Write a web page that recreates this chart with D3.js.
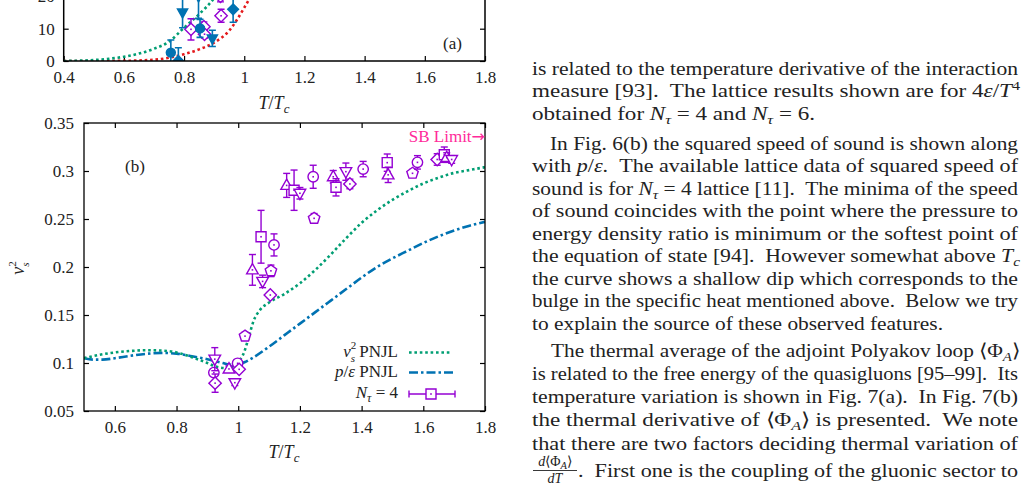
<!DOCTYPE html>
<html><head><meta charset="utf-8">
<script src="https://cdn.jsdelivr.net/npm/d3@7"></script>
<style>
body{margin:0;background:#fff}
svg{display:block}
</style>
</head><body>
<svg id="c" width="1029" height="491"></svg>
<script>
// ---------------- DATA ----------------
// Panel (b): squared speed of sound
const bTicksX = [0.6, 0.8, 1.0, 1.2, 1.4, 1.6, 1.8];
const bTicksY = [0.05, 0.1, 0.15, 0.2, 0.25, 0.3, 0.35];
const vsT = [0.5,0.55,0.6,0.65,0.7,0.75,0.8,0.85,0.9,0.93,0.96,0.98,1.0,1.02,1.035,1.05,1.07,1.1,1.15,1.2,1.25,1.3,1.35,1.4,1.45,1.5,1.55,1.6,1.65,1.7,1.75,1.8];
const vsV = [0.105,0.1085,0.111,0.1125,0.1133,0.113,0.111,0.106,0.1,0.096,0.0948,0.096,0.101,0.112,0.128,0.144,0.155,0.163,0.172,0.183,0.197,0.213,0.23,0.246,0.259,0.27,0.279,0.287,0.293,0.298,0.301,0.304];
const peT = [0.5,0.53,0.56,0.6,0.65,0.7,0.75,0.8,0.85,0.9,0.95,0.975,1.0,1.025,1.05,1.1,1.15,1.2,1.25,1.3,1.35,1.4,1.45,1.5,1.55,1.6,1.65,1.7,1.75,1.8];
const peV = [0.105,0.1035,0.1035,0.105,0.1075,0.1095,0.1105,0.1098,0.107,0.104,0.1,0.098,0.0985,0.1015,0.106,0.117,0.129,0.141,0.153,0.165,0.177,0.189,0.2,0.209,0.217,0.225,0.232,0.238,0.243,0.247];
const latT = [0.921,0.924,0.925,0.970,0.989,0.998,1.003,1.022,1.046,1.074,1.079,1.104,1.106,1.116,1.157,1.181,1.200,1.243,1.246,1.308,1.317,1.349,1.362,1.405,1.483,1.486,1.565,1.581,1.645,1.668,1.676,1.692];
const latV = [0.0900,0.1040,0.0790,0.0938,0.0795,0.0997,0.0934,0.1280,0.1970,0.2315,0.1850,0.1708,0.1960,0.2230,0.2850,0.2800,0.2768,0.2940,0.2507,0.2940,0.2830,0.2993,0.2865,0.3020,0.3087,0.2960,0.2976,0.3090,0.3120,0.3170,0.3140,0.3120];
const latErr = [0.004,0.012,0.0095,0.003,0.003,0.003,0.003,0.004,0.016,0.0275,0.0065,0.003,0.006,0.0115,0.0125,0.021,0.006,0.012,0.005,0.0065,0.009,0.009,0.005,0.008,0.009,0.008,0.004,0.007,0.006,0.008,0.005,0.004];
const latMark = ["circle","tridown","diamond","triup","tridown","circle","diamond","pentagon","triup","square","tridown","diamond","pentagon","circle","triup","square","tridown","circle","pentagon","triup","square","tridown","diamond","circle","square","triup","pentagon","circle","diamond","square","triup","tridown"];

// Panel (a): only its lower part is visible
const aTicksX = [0.4, 0.6, 0.8, 1.0, 1.2, 1.4, 1.6, 1.8];
const aTicksY = [0, 10, 20];
const aGreenT = [0.4,0.45,0.5,0.55,0.6,0.65,0.7,0.75,0.8,0.85,0.9,0.95,1.0];
const aGreenV = [0,0.1,0.3,0.7,1.3,2.3,3.8,6.0,10.3,14.5,19.5,27,36];
const aRedT = [0.4,0.5,0.6,0.7,0.75,0.8,0.85,0.9,0.95,1.0,1.05];
const aRedV = [0,0,0.05,0.4,1.0,2.1,3.6,5.7,9.4,16.5,25];
const aBlueT = [0.756,0.781,0.795,0.848,0.853,0.894,0.963];
const aBlueV = [2.6,0,15,20,10.1,7.0,16];
const aBlueE = [3.9,4.1,4.7,6.8,2.8,2.5,4];
const aBlueM = ["circle","diamond","tridown","tridown","circle","tridown","diamond"];
const aPurT = [0.823,0.866,0.868,0.923,0.921];
const aPurV = [9.8,10.6,8.3,14,20];
const aPurE = [3.3,1.5,1.2,2,1.7];

// ---------------- SETUP ----------------
const FONT = '"Liberation Serif","Times New Roman",serif';
const TXT = "#222";
const GREEN = "#009e73", BLUE = "#0072b2", PURPLE = "#9400d3", RED = "#e41a1c", PINK = "#ff2a9a";
const svg = d3.select("#c").attr("font-family", FONT);

const xB = d3.scaleLinear().domain([0.5, 1.8]).range([84, 485]);
const yB = d3.scaleLinear().domain([0.05, 0.35]).range([411, 123]);
const xA = d3.scaleLinear().domain([0.4, 1.8]).range([63.7, 485]);
const yA = d3.scaleLinear().domain([0, 10]).range([61, 28.7]);

function styleAxis(g, size) {
  g.attr("font-family", FONT).attr("font-size", size || 17);
  g.select(".domain").remove();
  g.selectAll(".tick line").attr("stroke", "#000").attr("stroke-width", 1.2);
  g.selectAll("text").attr("fill", TXT);
}
const fmt = d => String(+d.toFixed(3));

function symPath(shape, s) {
  s = s || 1;
  switch (shape) {
    case "square": return `M${-5*s},${-5*s}h${10*s}v${10*s}h${-10*s}Z`;
    case "circle": { const r = 5.2*s; return `M${r},0A${r},${r} 0 1 1 ${-r},0A${r},${r} 0 1 1 ${r},0Z`; }
    case "triup": return `M0,${-6.3*s}L${5.8*s},${4*s}L${-5.8*s},${4*s}Z`;
    case "tridown": return `M0,${6.3*s}L${5.8*s},${-4*s}L${-5.8*s},${-4*s}Z`;
    case "diamond": return `M0,${-6.2*s}L${6.2*s},0L0,${6.2*s}L${-6.2*s},0Z`;
    case "pentagon": {
      const r = 6*s; let p = "";
      for (let k = 0; k < 5; k++) { const a = (-90 + 72*k) * Math.PI/180; p += (k ? "L" : "M") + (r*Math.cos(a)).toFixed(2) + "," + (r*Math.sin(a)).toFixed(2); }
      return p + "Z";
    }
  }
}

// ---------------- PANEL (a) (bottom part) ----------------
const gA = svg.append("g");
svg.append("defs").append("clipPath").attr("id", "clipA").append("rect").attr("x", 63.7).attr("y", -200).attr("width", 421.3).attr("height", 261);
svg.select("defs").append("clipPath").attr("id", "clipB").append("rect").attr("x", 84).attr("y", 123).attr("width", 401).attr("height", 288);

gA.append("g").attr("transform", "translate(0,61)")
  .call(d3.axisBottom(xA).tickValues(aTicksX).tickSizeInner(-5).tickSizeOuter(0).tickPadding(10).tickFormat(fmt))
  .call(g => styleAxis(g));
gA.append("g").attr("transform", "translate(63.7,0)")
  .call(d3.axisLeft(yA).tickValues(aTicksY).tickSizeInner(-5).tickSizeOuter(0).tickPadding(9).tickFormat(fmt))
  .call(g => styleAxis(g));
gA.append("g").attr("transform", "translate(485,0)")
  .call(d3.axisRight(yA).tickValues(aTicksY).tickSizeInner(-5).tickSizeOuter(0).tickFormat(""))
  .call(g => styleAxis(g));

const curvesA = gA.append("g").attr("clip-path", "url(#clipA)");
const lineA = (T, V) => d3.line().x((d, i) => xA(T[i])).y((d, i) => yA(V[i])).curve(d3.curveMonotoneX)(T);
curvesA.append("path").attr("d", lineA(aRedT, aRedV)).attr("fill", "none").attr("stroke", RED).attr("stroke-width", 2.6).attr("stroke-dasharray", "2.6,2.8");
curvesA.append("path").attr("d", lineA(aGreenT, aGreenV)).attr("fill", "none").attr("stroke", GREEN).attr("stroke-width", 2.6).attr("stroke-dasharray", "2.6,2.8");

// purple open diamonds
aPurT.forEach((t, i) => {
  const x = xA(t), y = yA(aPurV[i]), y1 = yA(aPurV[i] + aPurE[i]), y2 = yA(aPurV[i] - aPurE[i]);
  const g = curvesA.append("g").attr("stroke", PURPLE).attr("stroke-width", 1.4);
  g.append("line").attr("x1", x).attr("x2", x).attr("y1", y1).attr("y2", y2);
  g.append("line").attr("x1", x-3.5).attr("x2", x+3.5).attr("y1", y1).attr("y2", y1);
  g.append("line").attr("x1", x-3.5).attr("x2", x+3.5).attr("y1", y2).attr("y2", y2);
  g.append("path").attr("d", symPath("diamond")).attr("transform", `translate(${x},${y})`).attr("fill", "#fff");
  g.append("rect").attr("x", x-0.8).attr("y", y-0.8).attr("width", 1.6).attr("height", 1.6).attr("fill", PURPLE).attr("stroke", "none");
});
// blue filled points
aBlueT.forEach((t, i) => {
  const x = xA(t), y = yA(aBlueV[i]), y1 = yA(aBlueV[i] + aBlueE[i]), y2 = yA(aBlueV[i] - aBlueE[i]);
  const g = curvesA.append("g").attr("stroke", BLUE).attr("stroke-width", 1.6);
  g.append("line").attr("x1", x).attr("x2", x).attr("y1", y1).attr("y2", y2);
  g.append("line").attr("x1", x-3.5).attr("x2", x+3.5).attr("y1", y1).attr("y2", y1);
  g.append("line").attr("x1", x-3.5).attr("x2", x+3.5).attr("y1", y2).attr("y2", y2);
  g.append("path").attr("d", symPath(aBlueM[i], 0.85)).attr("transform", `translate(${x},${y})`).attr("fill", BLUE);
});

gA.append("path").attr("d", "M63.7,-20V61H485V-20").attr("fill", "none").attr("stroke", "#000").attr("stroke-width", 1.5);
gA.append("text").attr("x", 443).attr("y", 49).attr("font-size", 17).attr("fill", TXT).text("(a)");
const tA = gA.append("text").attr("x", 274).attr("y", 109).attr("text-anchor", "middle").attr("font-size", 18).attr("fill", TXT);
tA.append("tspan").attr("font-style", "italic").text("T");
tA.append("tspan").text("/");
tA.append("tspan").attr("font-style", "italic").text("T");
tA.append("tspan").attr("font-style", "italic").attr("font-size", 13).attr("dy", 4).text("c");

// ---------------- PANEL (b) ----------------
const gB = svg.append("g");
gB.append("g").attr("transform", "translate(0,411)")
  .call(d3.axisBottom(xB).tickValues(bTicksX).tickSizeInner(-5).tickSizeOuter(0).tickPadding(10).tickFormat(fmt))
  .call(g => styleAxis(g));
gB.append("g").attr("transform", "translate(0,123)")
  .call(d3.axisTop(xB).tickValues(bTicksX).tickSizeInner(-5).tickSizeOuter(0).tickFormat(""))
  .call(g => styleAxis(g));
gB.append("g").attr("transform", "translate(84,0)")
  .call(d3.axisLeft(yB).tickValues(bTicksY).tickSizeInner(-5).tickSizeOuter(0).tickPadding(10).tickFormat(fmt))
  .call(g => styleAxis(g));
gB.append("g").attr("transform", "translate(485,0)")
  .call(d3.axisRight(yB).tickValues(bTicksY).tickSizeInner(-5).tickSizeOuter(0).tickFormat(""))
  .call(g => styleAxis(g));

const plotB = gB.append("g").attr("clip-path", "url(#clipB)");
const lineB = (T, V) => d3.line().x((d, i) => xB(T[i])).y((d, i) => yB(V[i])).curve(d3.curveMonotoneX)(T);
plotB.append("path").attr("d", lineB(peT, peV)).attr("fill", "none").attr("stroke", BLUE).attr("stroke-width", 2.6).attr("stroke-dasharray", "9,3,2.5,3");
plotB.append("path").attr("d", lineB(vsT, vsV)).attr("fill", "none").attr("stroke", GREEN).attr("stroke-width", 2.6).attr("stroke-dasharray", "2.6,2.8");

function openPoint(g, x, y, shape) {
  g.append("path").attr("d", symPath(shape)).attr("transform", `translate(${x},${y})`).attr("fill", "#fff").attr("stroke", PURPLE).attr("stroke-width", 1.4);
  g.append("rect").attr("x", x-0.8).attr("y", y-0.8).attr("width", 1.6).attr("height", 1.6).attr("fill", PURPLE);
}
latT.forEach((t, i) => {
  const x = xB(t), y = yB(latV[i]), y1 = yB(latV[i] + latErr[i]), y2 = yB(latV[i] - latErr[i]);
  const g = plotB.append("g").attr("stroke", PURPLE).attr("stroke-width", 1.4);
  g.append("line").attr("x1", x).attr("x2", x).attr("y1", y1).attr("y2", y2);
  g.append("line").attr("x1", x-3.5).attr("x2", x+3.5).attr("y1", y1).attr("y2", y1);
  g.append("line").attr("x1", x-3.5).attr("x2", x+3.5).attr("y1", y2).attr("y2", y2);
  const gp = plotB.append("g");
  openPoint(gp, x, y, latMark[i]);
});

gB.append("rect").attr("x", 84).attr("y", 123).attr("width", 401).attr("height", 288).attr("fill", "none").attr("stroke", "#000").attr("stroke-width", 1.3);

gB.append("text").attr("x", 125).attr("y", 172).attr("font-size", 17).attr("fill", TXT).text("(b)");
const sb = gB.append("text").attr("x", 485).attr("y", 142).attr("text-anchor", "end").attr("font-size", 17).attr("fill", PINK);
sb.append("tspan").text("SB Limit");
sb.append("tspan").attr("font-family", '"DejaVu Sans",sans-serif').attr("font-size", 16).text("\u2192");

// x title
const tB = gB.append("text").attr("x", 284).attr("y", 458).attr("text-anchor", "middle").attr("font-size", 18).attr("fill", TXT);
tB.append("tspan").attr("font-style", "italic").text("T");
tB.append("tspan").text("/");
tB.append("tspan").attr("font-style", "italic").text("T");
tB.append("tspan").attr("font-style", "italic").attr("font-size", 13).attr("dy", 4).text("c");
// y title
const yt = gB.append("text").attr("transform", "translate(24,268) rotate(-90)").attr("text-anchor", "middle").attr("font-size", 18).attr("fill", TXT);
yt.append("tspan").attr("font-style", "italic").text("v");
yt.append("tspan").attr("font-size", 11).attr("dy", -8).text("2");
yt.append("tspan").attr("font-style", "italic").attr("font-size", 11).attr("dx", -5.5).attr("dy", 13).text("s");

// legend
const leg = gB.append("g").attr("font-size", 17).attr("fill", TXT);
const l1 = leg.append("text").attr("x", 398).attr("y", 357).attr("text-anchor", "end");
l1.append("tspan").attr("font-style", "italic").text("v");
l1.append("tspan").attr("font-size", 11).attr("dy", -8).text("2");
l1.append("tspan").attr("font-style", "italic").attr("font-size", 11).attr("dx", -5.5).attr("dy", 13).text("s");
l1.append("tspan").attr("dy", -5).text(" PNJL");
const l2 = leg.append("text").attr("x", 398).attr("y", 377).attr("text-anchor", "end");
l2.append("tspan").attr("font-style", "italic").text("p");
l2.append("tspan").text("/");
l2.append("tspan").attr("font-style", "italic").text("\u03b5");
l2.append("tspan").text(" PNJL");
const l3 = leg.append("text").attr("x", 398).attr("y", 398).attr("text-anchor", "end");
l3.append("tspan").attr("font-style", "italic").text("N");
l3.append("tspan").attr("font-style", "italic").attr("font-size", 12).attr("dy", 4).text("\u03c4");
l3.append("tspan").attr("dy", -4).text(" = 4");
leg.append("line").attr("x1", 409).attr("x2", 452).attr("y1", 352.5).attr("y2", 352.5).attr("stroke", GREEN).attr("stroke-width", 2.6).attr("stroke-dasharray", "2.6,2.8");
leg.append("line").attr("x1", 409).attr("x2", 453).attr("y1", 372.5).attr("y2", 372.5).attr("stroke", BLUE).attr("stroke-width", 2.6).attr("stroke-dasharray", "9,3,2.5,3");
const lg3 = leg.append("g").attr("stroke", PURPLE).attr("stroke-width", 1.4);
lg3.append("line").attr("x1", 409).attr("x2", 455).attr("y1", 394).attr("y2", 394);
lg3.append("line").attr("x1", 409).attr("x2", 409).attr("y1", 390.5).attr("y2", 397.5);
lg3.append("line").attr("x1", 455).attr("x2", 455).attr("y1", 390.5).attr("y2", 397.5);
openPoint(leg, 431, 394, "square");

// ---------------- BODY TEXT (right column) ----------------
const L = 532, R = 1018;
function textLine(x, y, end, segs) {
  const t = svg.append("text").attr("x", x).attr("y", y).attr("font-size", 18.5).attr("fill", TXT).style("white-space", "pre");
  let shift = 0;
  segs.forEach(s => {
    const kind = typeof s === "string" ? "n" : s[0];
    const str = typeof s === "string" ? s : s[1];
    const ts = t.append("tspan").text(str);
    const target = kind.startsWith("sub") ? 4 : kind.startsWith("sup") ? -7 : 0;
    if (target !== shift) { ts.attr("dy", target - shift); shift = target; }
    if (kind === "i" || kind.endsWith("i")) ts.attr("font-style", "italic");
    if (kind.startsWith("sub") || kind.startsWith("sup")) ts.attr("font-size", 13);
  });
  t.attr("textLength", end - x).attr("lengthAdjust", "spacingAndGlyphs");
}
const Ntau = [["i", "N"], ["subi", "\u03c4"]];
textLine(L, 74.5, R, ["is related to the temperature derivative of the interaction"]);
textLine(L, 97, R + 2, ["measure [93].  The lattice results shown are for 4", ["i", "\u03b5"], "/", ["i", "T"], ["sup", "4"]]);
textLine(L, 119.5, 815, ["obtained for ", ...Ntau, " = 4 and ", ...Ntau, " = 6."]);
textLine(550, 149.5, R, ["In Fig. 6(b) the squared speed of sound is shown along"]);
textLine(L, 172, R, ["with ", ["i", "p"], "/", ["i", "\u03b5"], ".  The available lattice data of squared speed of"]);
textLine(L, 194.5, R, ["sound is for ", ...Ntau, " = 4 lattice [11].  The minima of the speed"]);
textLine(L, 217, R, ["of sound coincides with the point where the pressure to"]);
textLine(L, 239.5, R, ["energy density ratio is minimum or the softest point of"]);
textLine(L, 262, R + 2, ["the equation of state [94].  However somewhat above ", ["i", "T"], ["subi", "c"]]);
textLine(L, 284.5, R, ["the curve shows a shallow dip which corresponds to the"]);
textLine(L, 307, R, ["bulge in the specific heat mentioned above.  Below we try"]);
textLine(L, 329.5, 943, ["to explain the source of these observed features."]);
textLine(551, 357, R + 2, ["The thermal average of the adjoint Polyakov loop \u27e8\u03a6", ["subi", "A"], "\u27e9"]);
textLine(L, 380, R, ["is related to the free energy of the quasigluons [95\u201399].  Its"]);
textLine(L, 403, R, ["temperature variation is shown in Fig. 7(a).  In Fig. 7(b)"]);
textLine(L, 426, R, ["the thermal derivative of \u27e8\u03a6", ["subi", "A"], "\u27e9 is presented.  We note"]);
textLine(L, 450, R, ["that there are two factors deciding thermal variation of"]);
textLine(578, 477, R, [".  First one is the coupling of the gluonic sector to"]);
// fraction d<Phi_A>/dT
const fr = svg.append("g").attr("fill", TXT).attr("font-size", 14);
const num = fr.append("text").attr("x", 555).attr("y", 466).attr("text-anchor", "middle");
num.append("tspan").attr("font-style", "italic").text("d");
num.append("tspan").text("\u27e8\u03a6");
num.append("tspan").attr("font-style", "italic").attr("font-size", 10.5).attr("dy", 3).text("A");
num.append("tspan").attr("dy", -3).text("\u27e9");
const den = fr.append("text").attr("x", 555).attr("y", 483).attr("text-anchor", "middle");
den.append("tspan").attr("font-style", "italic").text("dT");
fr.append("line").attr("x1", 533).attr("x2", 577).attr("y1", 470.5).attr("y2", 470.5).attr("stroke", TXT).attr("stroke-width", 0.9);
</script>
</body></html>
